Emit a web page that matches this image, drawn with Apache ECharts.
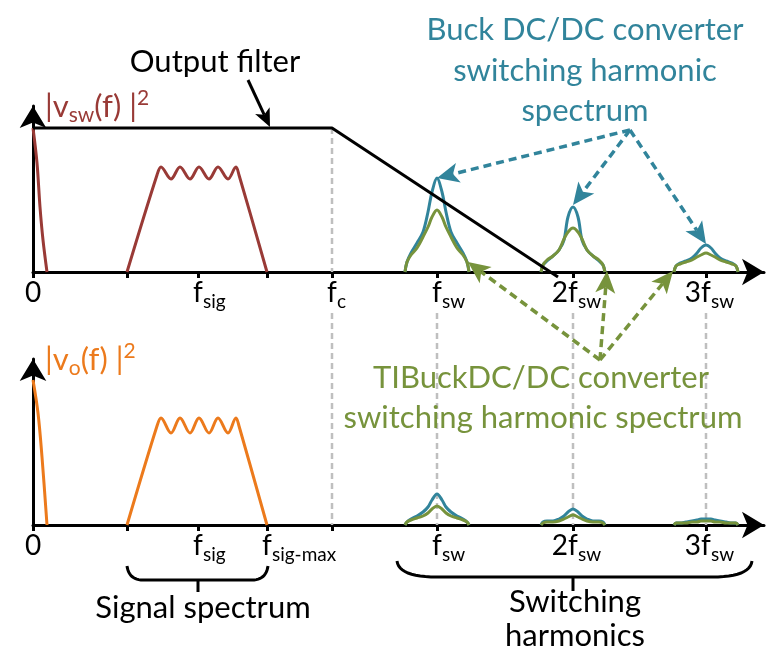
<!DOCTYPE html>
<html><head><meta charset="utf-8">
<script src="https://cdn.jsdelivr.net/npm/echarts@6/dist/echarts.min.js"></script>
<style>html,body{margin:0;padding:0;background:#fff}#c{width:776px;height:652px}</style>
</head><body><div id="c"></div>
<script>
const FONT = 'Lato';
// ---- axis ticks / labels (x in axis units) ----
const tickValues = [0, 94, 165, 234, 299, 404, 540, 673];
const topLabelValues = [0, 165, 299, 404, 540, 673, 735];
const topLabels = ['0', 'f|sig', 'f|c', 'f|sw', '2f|sw', '3f|sw', 'f'];
const botLabelValues = [0, 165, 234, 404, 540, 673, 735];
const botLabels = ['0', 'f|sig', 'f|sig-max', 'f|sw', '2f|sw', '3f|sw', 'f'];
const dashedAt = [299, 404, 540, 673];

// ---- output filter (top panel) ----
const filterX = [0, 299, 525];
const filterY = [144, 144, -5];

// ---- DC components ----
const dcTopX = [0, 4, 7, 10, 14];
const dcTopY = [144, 109, 65, 32, 0];
const dcBotX = [0, 5, 9, 14];
const dcBotY = [145, 112, 68, 0];

// ---- signal band ----
const sigX = [94, 124, 128, 138, 147, 157, 166, 176, 185, 195, 203, 206, 234];
const sigTopY = [0, 97, 105, 93, 105, 93, 105, 93, 105, 93, 105, 97, 0];
const sigBotY = [0, 99, 107, 92, 107, 92, 107, 92, 107, 92, 107, 99, 0];

// ---- switching harmonics ----
const harmCenters = [404, 540, 673];
const harmOffsets = [-32, -30, -26, -20, -14, -9, -5, 0, 5, 9, 14, 20, 26, 30, 32];
const buckTop1 = [0, 10, 19, 29, 40, 60, 80, 94, 80, 60, 40, 29, 19, 10, 0];
const buckTop2 = [0, 7, 11, 16, 22, 32, 55, 65, 55, 32, 22, 16, 11, 7, 0];
const buckTop3 = [0, 6, 9, 11, 14, 19, 24, 27, 24, 19, 14, 11, 9, 6, 0];
const tiTop1 = [0, 10, 17, 24, 35, 45, 55, 62, 55, 45, 35, 24, 17, 10, 0];
const tiTop2 = [0, 7, 12, 16, 22, 33, 40, 44, 40, 33, 22, 16, 12, 7, 0];
const tiTop3 = [0, 6, 8, 10, 12, 15, 17, 19, 17, 15, 12, 10, 8, 6, 0];
const buckBot1 = [0, 3, 6, 9, 13, 18, 25, 31, 25, 18, 13, 9, 6, 3, 0];
const buckBot2 = [0, 3, 4, 4, 6, 9, 13, 16, 13, 9, 6, 4, 4, 3, 0];
const buckBot3 = [0, 2, 2, 3, 4, 5, 6, 6, 6, 5, 4, 3, 2, 2, 0];
const tiBot1 = [0, 3, 5, 7, 9, 12, 16, 19, 16, 12, 9, 7, 5, 3, 0];
const tiBot2 = [0, 2, 3, 3, 4, 6, 8, 10, 8, 6, 4, 3, 3, 2, 0];
const tiBot3 = [0, 2, 2, 2, 3, 3, 4, 4, 4, 3, 3, 2, 2, 2, 0];

const C = {red: '#993A36', orange: '#EC7A1C', teal: '#31849B', green: '#77933C', gray: '#BFBFBF', black: '#000'};

const xy = (xs, ys) => xs.map((x, i) => [x, ys[i]]);
const harm = (c, hs) => harmOffsets.map((d, i) => [c + d, hs[i]]);

const cv = document.createElement('canvas').getContext('2d');
function tw(t, size) { cv.font = size + 'px ' + FONT; return cv.measureText(t).width; }

const BIG = 28, SUB = 19;
function labelSetup(values, labels, key) {
  const rich = {};
  const strs = {};
  values.forEach((v, i) => {
    const parts = labels[i].split('|');
    const name = key + i;
    if (parts.length === 1) {
      rich[name] = {fontSize: BIG, lineHeight: 36, fontFamily: FONT, color: '#000'};
      strs[v] = '{' + name + '|' + parts[0] + '}';
      return;
    }
    const main = parts[0], sub = parts[1];
    const lead = main.slice(0, -1);
    const d = tw(sub, SUB) - tw(lead, BIG);
    rich[name] = {fontSize: BIG, lineHeight: 36, fontFamily: FONT, color: '#000', padding: [0, 0, 0, Math.max(0, d)]};
    rich[name + 's'] = {fontSize: SUB, lineHeight: 20, verticalAlign: 'bottom', fontFamily: FONT, color: '#000', padding: [0, Math.max(0, -d), 0, 0]};
    strs[v] = '{' + name + '|' + main + '}{' + name + 's|' + sub + '}';
  });
  return {rich, fmt: v => strs[v] || ''};
}
const topL = labelSetup(topLabelValues, topLabels, 't');
const botL = labelSetup(botLabelValues, botLabels, 'b');

const GL = 33, GW = 731, GH = 166;
const grids = [{left: GL, top: 106, width: GW, height: GH}, {left: GL, top: 359, width: GW, height: GH}];

function mainX(gi, labelValues, L) {
  return {type: 'value', gridIndex: gi, min: 0, max: 731, splitLine: {show: false},
    axisLine: {show: true, onZero: false, symbol: ['none', 'arrow'], symbolSize: [20, 22], lineStyle: {color: '#000', width: 3}},
    axisTick: {show: true, customValues: tickValues, length: 6, lineStyle: {color: '#000', width: 3}},
    axisLabel: {show: true, customValues: labelValues, formatter: L.fmt, rich: L.rich, margin: 3, fontFamily: FONT}};
}
function innerX(gi) {
  return {type: 'value', gridIndex: gi, min: 0, max: 731, splitLine: {show: false},
    axisLine: {show: false}, axisLabel: {show: false},
    axisTick: {show: true, inside: true, customValues: tickValues, length: 6, lineStyle: {color: '#000', width: 3}}};
}
function yAx(gi, nameRich, nameStr) {
  return {type: 'value', gridIndex: gi, min: 0, max: 166, splitLine: {show: false},
    axisTick: {show: false}, axisLabel: {show: false},
    axisLine: {show: true, onZero: false, symbol: ['none', 'arrow'], symbolSize: [20, 22], lineStyle: {color: '#000', width: 3}},
    name: nameStr, nameLocation: 'end', nameGap: -1,
    nameTextStyle: {align: 'left', verticalAlign: 'middle', padding: [0, 0, 0, 12], rich: nameRich}};
}
function nameRich(col) {
  return {a: {fontSize: 31, lineHeight: 38, color: col, fontFamily: FONT},
    b: {fontSize: 21, lineHeight: 22, verticalAlign: 'bottom', color: col, fontFamily: FONT},
    c: {fontSize: 21, lineHeight: 24, verticalAlign: 'top', color: col, fontFamily: FONT}};
}

function line(data, color, xi, yi, extra) {
  return Object.assign({type: 'line', data, xAxisIndex: xi, yAxisIndex: yi, showSymbol: false, symbol: 'none', clip: false,
    lineStyle: {color, width: 3}, itemStyle: {color}, smooth: 0.35, z: 3}, extra || {});
}

const series = [
  line(xy(dcTopX, dcTopY), C.red, 0, 0),
  line(xy(sigX, sigTopY), C.red, 0, 0),
  line(harm(harmCenters[0], buckTop1), C.teal, 0, 0),
  line(harm(harmCenters[1], buckTop2), C.teal, 0, 0),
  line(harm(harmCenters[2], buckTop3), C.teal, 0, 0),
  line(harm(harmCenters[0], tiTop1), C.green, 0, 0),
  line(harm(harmCenters[1], tiTop2), C.green, 0, 0),
  line(harm(harmCenters[2], tiTop3), C.green, 0, 0),
  line(xy(filterX, filterY), C.black, 0, 0, {smooth: false, z: 4}),
  line(xy(dcBotX, dcBotY), C.orange, 2, 1),
  line(xy(sigX, sigBotY), C.orange, 2, 1),
  line(harm(harmCenters[0], buckBot1), C.teal, 2, 1),
  line(harm(harmCenters[1], buckBot2), C.teal, 2, 1),
  line(harm(harmCenters[2], buckBot3), C.teal, 2, 1),
  line(harm(harmCenters[0], tiBot1), C.green, 2, 1),
  line(harm(harmCenters[1], tiBot2), C.green, 2, 1),
  line(harm(harmCenters[2], tiBot3), C.green, 2, 1)
];

const chart = echarts.init(document.getElementById('c'));
chart.setOption({
  animation: false,
  textStyle: {fontFamily: FONT},
  grid: grids,
  xAxis: [mainX(0, topLabelValues, topL), innerX(0), mainX(1, botLabelValues, botL), innerX(1)],
  yAxis: [yAx(0, nameRich(C.red), '{a||v}{b|sw}{a|(f) |}{c|2}'), yAx(1, nameRich(C.orange), '{a||v}{b|o}{a|(f) |}{c|2}')],
  series
});

// ---------- annotations ----------
const P0 = p => chart.convertToPixel({xAxisIndex: 0, yAxisIndex: 0}, p);
const P1 = p => chart.convertToPixel({xAxisIndex: 2, yAxisIndex: 1}, p);
const g = [];
const TS = 31;
function text(t, x, y, size, color) {
  g.push({type: 'text', z: 20, style: {text: t, x, y, font: size + 'px ' + FONT, fill: color, align: 'center', verticalAlign: 'middle', textAlign: 'center', textVerticalAlign: 'middle'}});
}
function seg(a, b, color, w, dash, z) {
  g.push({type: 'line', z: z || 10, shape: {x1: a[0], y1: a[1], x2: b[0], y2: b[1]}, style: {stroke: color, lineWidth: w, lineDash: dash || null}});
}
function arrow(from, tip, color, w, dash, L, W) {
  const dx = tip[0] - from[0], dy = tip[1] - from[1], len = Math.hypot(dx, dy);
  const ux = dx / len, uy = dy / len;
  const bx = tip[0] - ux * L, by = tip[1] - uy * L;
  const nx = tip[0] - ux * L * 0.75, ny = tip[1] - uy * L * 0.75;
  seg(from, [nx, ny], color, w, dash, 12);
  g.push({type: 'polygon', z: 13, shape: {points: [tip, [bx - uy * W, by + ux * W], [nx, ny], [bx + uy * W, by - ux * W]]}, style: {fill: color}});
}
function quad(p0, c, p1, n) {
  const pts = [];
  for (let i = 0; i <= n; i++) {
    const t = i / n, a = (1 - t) * (1 - t), b = 2 * (1 - t) * t, d = t * t;
    pts.push([a * p0[0] + b * c[0] + d * p1[0], a * p0[1] + b * c[1] + d * p1[1]]);
  }
  return pts;
}
function brace(x0, x1, xm, yEnd, yLine, yTip, r) {
  const left = quad([x0, yEnd], [x0 + 2, yLine], [x0 + r, yLine], 12);
  const right = quad([x1 - r, yLine], [x1 - 2, yLine], [x1, yEnd], 12);
  g.push({type: 'polyline', z: 10, shape: {points: left.concat(right)}, style: {stroke: '#000', lineWidth: 3, fill: null}});
  seg([xm, yLine], [xm, yTip], '#000', 3, null, 10);
}
// gray dashed guide lines
const gd = [6, 4];
seg(P0([299, 144]), P0([299, 0]), C.gray, 2.5, gd, 1);
dashedAt.forEach(v => {
  const b = P1([v, 0]);
  seg([b[0], 313], b, C.gray, 2.5, gd, 1);
});
// Output filter
text('Output filter', 215, 62, TS, '#000');
arrow([248, 80], [270, 127], '#000', 3, null, 18, 8);
// Buck annotation
text('Buck DC/DC converter', 585, 30, TS, C.teal);
text('switching harmonic', 585, 71, TS, C.teal);
text('spectrum', 585, 111, TS, C.teal);
const tOrig = [630, 130];
arrow(tOrig, P0([harmCenters[0], 94]), C.teal, 3.5, [8, 5], 22, 10);
arrow(tOrig, P0([harmCenters[1], 67]), C.teal, 3.5, [8, 5], 22, 10);
arrow(tOrig, P0([harmCenters[2], 28]), C.teal, 3.5, [8, 5], 22, 10);
// TI buck annotation
text('TIBuckDC/DC converter', 541, 378, TS, C.green);
text('switching harmonic spectrum', 543, 418, TS, C.green);
const gOrig = [600, 360];
arrow(gOrig, [468, 262], C.green, 3.5, [8, 5], 22, 10);
arrow(gOrig, [607, 271], C.green, 3.5, [8, 5], 22, 10);
arrow(gOrig, [673, 271], C.green, 3.5, [8, 5], 22, 10);
// braces
brace(127, 268, 198, 566, 580, 592, 16);
brace(397, 752, 573, 561, 577, 591, 40);
text('Signal spectrum', 203, 608, TS, '#000');
text('Switching', 575, 602, TS, '#000');
text('harmonics', 575, 636, TS, '#000');

chart.setOption({graphic: {elements: g}});
</script>
</body></html>
